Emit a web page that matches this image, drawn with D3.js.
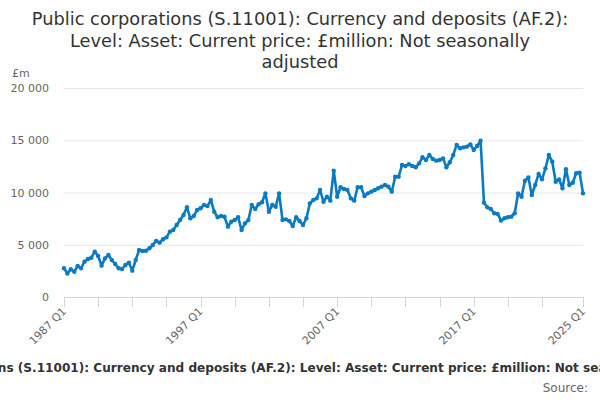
<!DOCTYPE html>
<html>
<head>
<meta charset="utf-8">
<script src="https://cdn.jsdelivr.net/npm/d3@7"></script>
<style>
  body { margin: 0; background: #fff; }
  svg { font-family: "DejaVu Sans", sans-serif; }
</style>
</head>
<body>
<svg width="600" height="400"></svg>
<script>
//* Quarterly levels, £m, 1987 Q1 to 2025 Q1
const firstYear = 1987;
const values = [
  2750, 2250, 2650, 2420, 2970, 2750, 3380, 3640, 3760, 4340,
  3920, 3000, 3700, 4020, 3540, 3160, 2750, 2680, 3060, 3280,
  2520, 3540, 4500, 4400, 4430, 4660, 4980, 5360, 5200, 5520,
  5710, 6250, 6410, 6890, 7370, 7850, 8600, 7530, 7750, 8330,
  8490, 8800, 8700, 9280, 8160, 7630, 7750, 7680, 6730, 7210,
  7370, 7630, 6410, 7050, 7370, 8800, 8420, 8870, 9060, 9920,
  8160, 8800, 8640, 9920, 7370, 7430, 7270, 6790, 7630, 7270,
  6890, 7530, 8960, 9280, 9440, 10240, 9120, 9600, 9220, 12090,
  9600, 10500, 10330, 10240, 9440, 9220, 10500, 10500, 9660, 9920,
  10080, 10240, 10400, 10560, 10720, 10560, 10080, 11510, 11510, 12630,
  12540, 12700, 12540, 12410, 12790, 13370, 13110, 13590, 13210, 13050,
  13110, 13270, 12410, 12890, 13590, 14550, 14230, 14320, 14390, 14610,
  14070, 14450, 14960, 9030, 8580, 8420, 8010, 7950, 7310, 7530,
  7630, 7690, 8010, 9920, 9600, 11130, 11450, 9760, 10720, 11770,
  11260, 12310, 13590, 12950, 11030, 11260, 10400, 12220, 10720, 10940,
  11840, 11900, 9920
];
const yTicks = [0, 5000, 10000, 15000, 20000];
const xMinorTicks = [0, 10, 20, 30, 40, 50, 60, 70, 80, 90, 100, 110, 120, 130, 140, 152];
const xLabelTicks = [0, 40, 80, 120, 152];
const titleLines = [
  "Public corporations (S.11001): Currency and deposits (AF.2):",
  "Level: Asset: Current price: £million: Not seasonally",
  "adjusted"
];
const footerText = "Public corporations (S.11001): Currency and deposits (AF.2): Level: Asset: Current price: £million: Not seasonally adjusted";

const quarters = values.map((v, i) => `${firstYear + Math.floor(i / 4)} Q${i % 4 + 1}`);

const width = 600;
const height = 400;
const plot = {left: 64, right: 583, top: 88, bottom: 297};
const lineColor = "#0a7bc2";

const svg = d3.select("svg");

const x = d3.scaleLinear()
  .domain([0, values.length - 1])
  .range([plot.left, plot.right]);

const y = d3.scaleLinear()
  .domain([0, 20000])
  .range([plot.bottom, plot.top]);

const fmt = d3.formatLocale({decimal: ".", thousands: " ", grouping: [3], currency: ["", ""]}).format(",d");

// Title
svg.append("text")
  .attr("x", width / 2)
  .attr("text-anchor", "middle")
  .attr("fill", "#333")
  .attr("font-size", 17.8)
  .selectAll("tspan")
  .data(titleLines)
  .join("tspan")
    .attr("x", width / 2)
    .attr("y", (d, i) => 25 + i * 21.5)
    .text(d => d);

// Gridlines and y labels
svg.append("g")
  .selectAll("line")
  .data(yTicks.filter(d => d > 0))
  .join("line")
    .attr("x1", plot.left)
    .attr("x2", plot.right)
    .attr("y1", d => y(d) + 0.5)
    .attr("y2", d => y(d) + 0.5)
    .attr("stroke", "#e6e6e6");

svg.append("g")
  .selectAll("text")
  .data(yTicks)
  .join("text")
    .attr("x", 49)
    .attr("y", d => y(d) + 4)
    .attr("text-anchor", "end")
    .attr("font-size", 11)
    .attr("fill", "#666")
    .text(d => fmt(d));

svg.append("text")
  .attr("x", 12)
  .attr("y", 77)
  .attr("font-size", 11)
  .attr("fill", "#666")
  .text("£m");

// x axis
svg.append("line")
  .attr("x1", plot.left)
  .attr("x2", plot.right)
  .attr("y1", plot.bottom + 0.5)
  .attr("y2", plot.bottom + 0.5)
  .attr("stroke", "#ccd6eb");

svg.append("g")
  .selectAll("line")
  .data(xMinorTicks)
  .join("line")
    .attr("x1", d => Math.round(x(d)) + 0.5)
    .attr("x2", d => Math.round(x(d)) + 0.5)
    .attr("y1", plot.bottom)
    .attr("y2", plot.bottom + 10)
    .attr("stroke", "#ccd6eb");

svg.append("g")
  .selectAll("text")
  .data(xLabelTicks)
  .join("text")
    .attr("transform", d => `translate(${x(d) + 3}, ${plot.bottom + 15}) rotate(-45)`)
    .attr("text-anchor", "end")
    .attr("font-size", 11)
    .attr("fill", "#666")
    .text(d => quarters[d]);

// Series
const line = d3.line()
  .x((d, i) => x(i))
  .y(d => y(d));

svg.append("path")
  .datum(values)
  .attr("fill", "none")
  .attr("stroke", lineColor)
  .attr("stroke-width", 2.6)
  .attr("stroke-linejoin", "round")
  .attr("d", line);

svg.append("g")
  .selectAll("circle")
  .data(values)
  .join("circle")
    .attr("cx", (d, i) => x(i))
    .attr("cy", d => y(d))
    .attr("r", 2.2)
    .attr("fill", lineColor);

// Footer (wider than the chart, clipped at both edges as in the original)
svg.append("text")
  .attr("x", width / 2)
  .attr("y", 372)
  .attr("text-anchor", "middle")
  .attr("font-size", 12.1)
  .attr("font-weight", "bold")
  .attr("fill", "#333")
  .text(footerText);

svg.append("text")
  .attr("x", 588)
  .attr("y", 392)
  .attr("text-anchor", "end")
  .attr("font-size", 12)
  .attr("fill", "#666")
  .text("Source:");
</script>
</body>
</html>
